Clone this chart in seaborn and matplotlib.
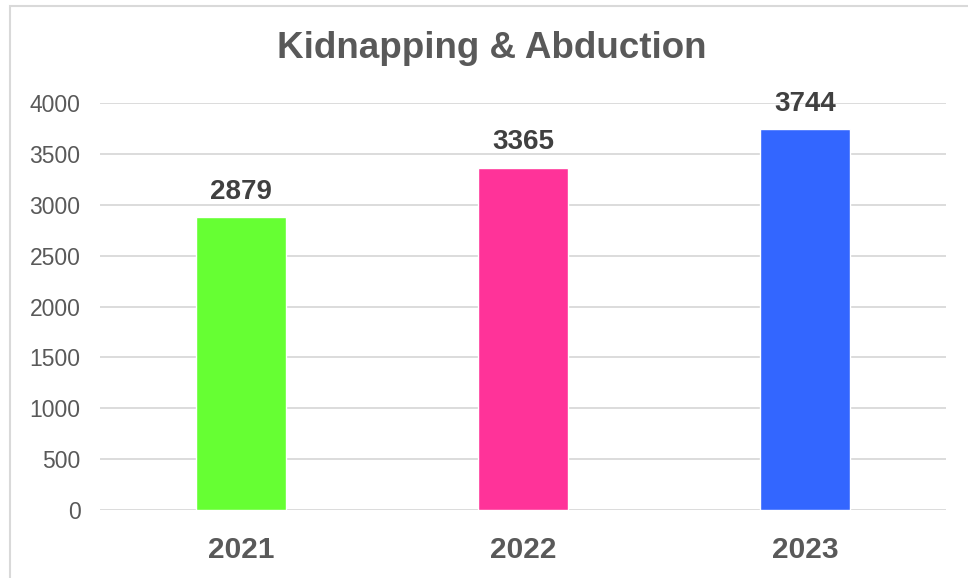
import matplotlib
matplotlib.use("Agg")
import matplotlib.pyplot as plt
from matplotlib.patches import Rectangle
import pandas as pd
import seaborn as sns

years = ["2021", "2022", "2023"]
cases = [2879, 3365, 3744]
bar_colors = ["#66FF33", "#FF3399", "#3366FF"]
title = "Kidnapping & Abduction"

sns.set_style("white")
plt.rcParams["font.family"] = ["Liberation Sans", "DejaVu Sans"]

df = pd.DataFrame({"year": years, "cases": cases})

W, H = 968, 578
fig = plt.figure(figsize=(W / 100, H / 100), dpi=100)
ax = fig.add_axes([100 / W, 1 - 510 / H, 846 / W, 407 / H])

# light frame around the chart area (runs off the right/bottom edge)
fig.patches.append(Rectangle((10 / W, -0.05), 1.1, 1 - 6 / H + 0.05,
                             transform=fig.transFigure, fill=False,
                             edgecolor="#D9D9D9", linewidth=1.5))

sns.barplot(data=df, x="year", y="cases", hue="year", palette=bar_colors,
            width=0.316, legend=False, saturation=1, ax=ax)

for cont in ax.containers:
    ax.bar_label(cont, padding=9, fontsize=20, fontweight="bold", color="#404040")

ax.set_ylim(0, 4000)
ax.set_yticks(range(0, 4001, 500))
ax.set_xlim(-0.5, 2.5)
ax.yaxis.grid(True, color="#D9D9D9", linewidth=1.3)
ax.set_axisbelow(True)
for s in ax.spines.values():
    s.set_visible(False)
ax.tick_params(axis="y", length=0, pad=14, labelsize=16.5, labelcolor="#595959")
ax.tick_params(axis="x", length=0, pad=19, labelsize=21.5, labelcolor="#595959")
for lbl in ax.get_xticklabels():
    lbl.set_fontweight("bold")
ax.set_xlabel("")
ax.set_ylabel("")

fig.text(492 / W, 1 - 48 / H, title, ha="center", va="center",
         fontsize=26.5, fontweight="bold", color="#595959")

fig.savefig("out.png", dpi=100)
